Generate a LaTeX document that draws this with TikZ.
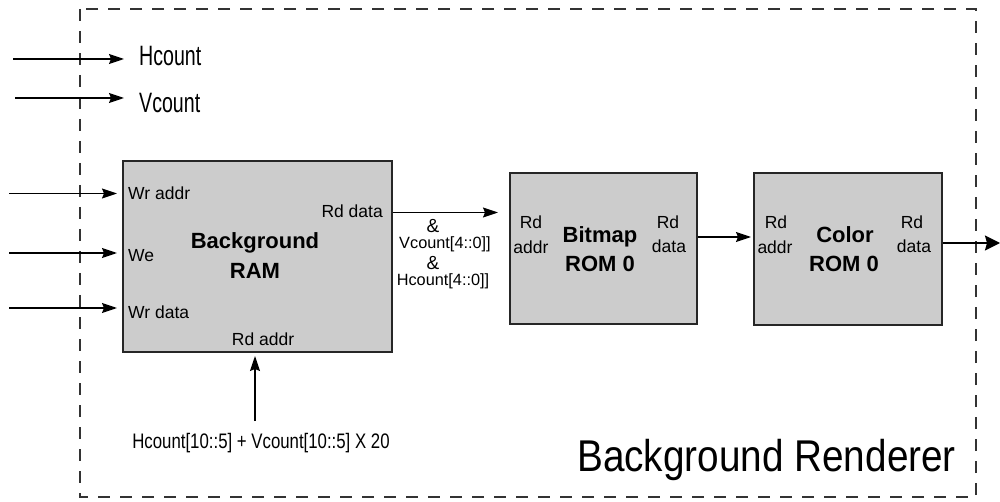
\documentclass[tikz,border=0pt]{standalone}
\usepackage{fontspec}
\setmainfont{Liberation Sans}
\usepackage{graphicx}
\usetikzlibrary{arrows.meta}
\newcommand{\narrow}[2]{\scalebox{#1}[1]{#2}}
\begin{document}
\begin{tikzpicture}[x=1pt,y=-1pt,
  box/.style={draw=black!85, line width=2pt, fill=black!20, inner sep=0},
  lbl/.style={inner sep=0, font=\fontsize{17.5}{20}\selectfont},
  ttl/.style={inner sep=0, font=\bfseries\fontsize{22}{26}\selectfont},
  arr/.style={line width=1.3pt, -{Stealth[length=15pt,width=10pt,inset=2pt]}},
  bigarr/.style={line width=2pt, -{Stealth[length=15pt,width=15pt,inset=2pt]}},
  frame/.style={line width=1.2pt, dash pattern=on 12pt off 10pt, draw=black!80}]
\useasboundingbox (0,0) rectangle (1000,502);

% outer dashed frame
\draw[frame] (80,9) rectangle (976,497);

% boxes
\node[box, minimum width=269pt, minimum height=191pt] (ram) at (257.5,256.5) {};
\node[box, minimum width=187pt, minimum height=151pt] (bitmap) at (603.5,248.5) {};
\node[box, minimum width=188pt, minimum height=152pt] (color) at (848,249) {};

% top labels
\node[inner sep=0, anchor=base west, font=\fontsize{28}{32}\selectfont] (hcount) at (139,66) {\narrow{0.7}{Hcount}};
\node[inner sep=0, anchor=base west, font=\fontsize{28}{32}\selectfont] (vcount) at (139,113) {\narrow{0.7}{Vcount}};

% RAM texts
\node[lbl, anchor=base west] (wraddr) at (128,200) {Wr addr};
\node[lbl, anchor=base west] (we) at (128,262) {We};
\node[lbl, anchor=base west] (wrdata) at (128,318) {Wr data};
\node[lbl, anchor=base east] (rddata) at (383,218) {Rd data};
\node[ttl, anchor=base] (ramA) at (255,249) {Background};
\node[ttl, anchor=base] (ramB) at (255,279) {RAM};
\node[lbl, anchor=base] (rdaddr) at (263,345) {Rd addr};

% middle labels
\node[inner sep=0, anchor=base, font=\fontsize{19}{22}\selectfont] (ampA) at (433,233) {\&};
\node[inner sep=0, anchor=base, font=\fontsize{16.3}{19}\selectfont] (vbits) at (445,249) {Vcount[4::0]]};
\node[inner sep=0, anchor=base, font=\fontsize{19}{22}\selectfont] (ampB) at (433,270) {\&};
\node[inner sep=0, anchor=base, font=\fontsize{16.3}{19}\selectfont] (hbits) at (443,286) {Hcount[4::0]]};

% bottom formula
\node[inner sep=0, anchor=base, font=\fontsize{21}{24}\selectfont] (formula) at (261,448.5) {\narrow{0.8}{Hcount[10::5] + Vcount[10::5] X 20}};

% Bitmap ROM texts
\node[lbl, anchor=base] (bmRd) at (531,229) {Rd};
\node[lbl, anchor=base] (bmAddr) at (531,254) {addr};
\node[ttl, anchor=base] (bmA) at (600,243) {Bitmap};
\node[ttl, anchor=base] (bmB) at (600,272) {ROM 0};
\node[lbl, anchor=base] (bmRd2) at (668,229) {Rd};
\node[lbl, anchor=base] (bmData) at (669,253) {data};

% Color ROM texts
\node[lbl, anchor=base] (clRd) at (776,229) {Rd};
\node[lbl, anchor=base] (clAddr) at (775,254) {addr};
\node[ttl, anchor=base] (clA) at (845,243) {Color};
\node[ttl, anchor=base] (clB) at (844,272) {ROM 0};
\node[lbl, anchor=base] (clRd2) at (912,229) {Rd};
\node[lbl, anchor=base] (clData) at (914,253) {data};

% title
\node[inner sep=0, anchor=base west, font=\fontsize{44.5}{50}\selectfont] (title) at (577,471) {\narrow{0.87}{Background Renderer}};

% connectors
\coordinate (hin) at (13,59);
\coordinate (vin) at (15,98);
\coordinate (inA) at (9,193.5);
\coordinate (inB) at (9,253);
\coordinate (inC) at (9,308);
\coordinate (addrIn) at (255,421);
\coordinate (outEnd) at (1000,243);

\draw[arr, shorten >=15pt] (hin) -- (hin -| hcount.west);
\draw[arr, shorten >=15pt] (vin) -- (vin -| vcount.west);
\draw[arr, shorten >=5pt] (inA) -- (inA -| ram.west);
\draw[arr, shorten >=5pt] (inB) -- (inB -| ram.west);
\draw[arr, shorten >=5pt] (inC) -- (inC -| ram.west);
\draw[arr, shorten >=3pt] (addrIn) -- (addrIn |- ram.south);
\draw[arr, shorten >=11pt] (ram.east |- 0,212.5) -- (bitmap.west |- 0,212.5);
\draw[arr, shorten >=2pt] (bitmap.east |- 0,237) -- (color.west |- 0,237);
\draw[bigarr] (color.east |- outEnd) -- (outEnd);
\end{tikzpicture}
\end{document}
